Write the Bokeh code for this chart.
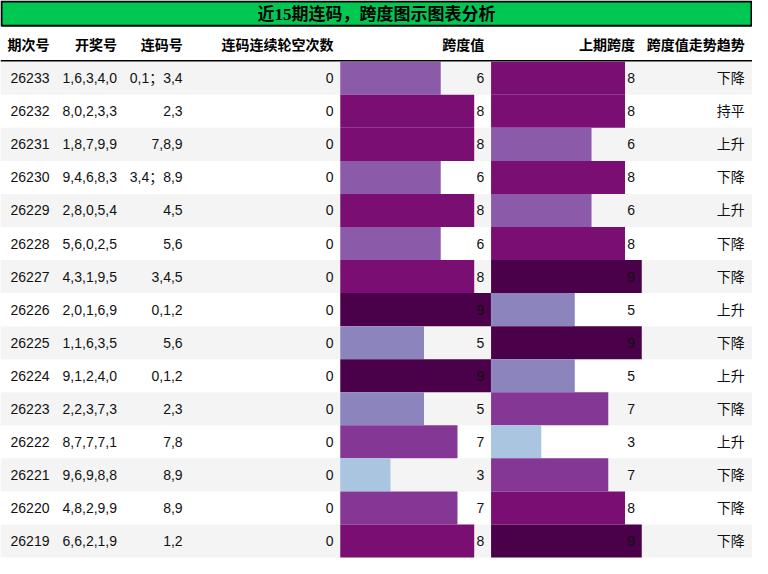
from bokeh.core.properties import value
from bokeh.embed import file_html
from bokeh.models import ColumnDataSource, Range1d
from bokeh.plotting import figure
from bokeh.resources import INLINE

TITLE = "近15期连码，跨度图示图表分析"
HEADERS = ["期次号", "开奖号", "连码号", "连码连续轮空次数", "跨度值", "上期跨度", "跨度值走势趋势"]

periods = ["26233", "26232", "26231", "26230", "26229", "26228", "26227", "26226",
           "26225", "26224", "26223", "26222", "26221", "26220", "26219"]
draws = ["1,6,3,4,0", "8,0,2,3,3", "1,8,7,9,9", "9,4,6,8,3", "2,8,0,5,4", "5,6,0,2,5",
         "4,3,1,9,5", "2,0,1,6,9", "1,1,6,3,5", "9,1,2,4,0", "2,2,3,7,3", "8,7,7,7,1",
         "9,6,9,8,8", "4,8,2,9,9", "6,6,2,1,9"]
pairs = ["0,1；3,4", "2,3", "7,8,9", "3,4；8,9", "4,5", "5,6", "3,4,5", "0,1,2",
         "5,6", "0,1,2", "2,3", "7,8", "8,9", "8,9", "1,2"]
gaps = [0, 0, 0, 0, 0, 0, 0, 0, 0, 0, 0, 0, 0, 0, 0]
spans = [6, 8, 8, 6, 8, 6, 8, 9, 5, 9, 5, 7, 3, 7, 8]
prev_spans = [8, 8, 6, 8, 6, 8, 9, 5, 9, 5, 7, 3, 7, 8, 9]
trends = ["下降", "持平", "上升", "下降", "上升", "下降", "下降", "上升",
          "下降", "上升", "下降", "上升", "下降", "下降", "下降"]

# layout (in reference pixels)
W, H = 768, 574
TITLE_H = 26
HEAD_Y = 45
ROW0, ROW_H = 63, 34
COL_RIGHT = [50, 119, 186, 340, 494, 648, 760]
BAR_LEFT = [347, 501]
UNIT = 17.1
SPAN_COLORS = {3: "#a9c5df", 4: "#9ea9d0", 5: "#8c85bd", 6: "#8b5ba9",
               7: "#843795", 8: "#7a0e72", 9: "#4b004a"}

SANS = value("Liberation Sans, Noto Sans CJK SC")
CJK = value("Noto Sans CJK SC")

n = len(periods)
row_top = [ROW0 + ROW_H * i for i in range(n)]
row_mid = [t + ROW_H / 2 for t in row_top]

p = figure(width=752, height=558, x_range=Range1d(0, W), y_range=Range1d(H, 0),
           min_border=0, toolbar_location=None, output_backend="svg")
p.axis.visible = False
p.grid.visible = False
p.outline_line_color = None
p.background_fill_color = "white"

# zebra rows
shade = [i for i in range(n) if i % 2 == 0]
p.quad(left=0, right=W, top=[row_top[i] for i in shade],
       bottom=[row_top[i] + ROW_H for i in shade], fill_color="#f4f4f4", line_color=None)

# bars
for left, vals in zip(BAR_LEFT, [spans, prev_spans]):
    src = ColumnDataSource(dict(y=row_mid, left=[left] * n,
                                right=[left + v * UNIT for v in vals],
                                color=[SPAN_COLORS[v] for v in vals]))
    p.hbar(y="y", left="left", right="right", height=ROW_H, fill_color="color",
           line_color=None, source=src)

# title bar
p.quad(left=1, right=W - 1, top=1, bottom=TITLE_H, fill_color="#00c853",
       line_color="black", line_width=2)
p.text(x=[W / 2], y=[TITLE_H / 2 + 1], text=[TITLE], text_align="center",
       text_baseline="middle", text_font=value("Liberation Serif, Noto Sans CJK SC"),
       text_font_size="17px", text_font_style="bold", text_color="black")

# header
p.text(x=COL_RIGHT, y=[HEAD_Y] * len(HEADERS), text=HEADERS, text_align="right",
       text_baseline="middle", text_font=CJK, text_font_size="14px",
       text_font_style="bold", text_color="black")
p.segment(x0=0, x1=W, y0=ROW0 - 1, y1=ROW0 - 1, line_color="black", line_width=1.5)

# cells
columns = [periods, draws, pairs, [str(g) for g in gaps], [str(v) for v in spans],
           [str(v) for v in prev_spans], trends]
for x, col in zip(COL_RIGHT, columns):
    p.text(x=[x] * n, y=row_mid, text=col, text_align="right", text_baseline="middle",
           text_font=SANS, text_font_size="14px", text_color="#111111")

open("out.html", "w").write(file_html(p, INLINE))
